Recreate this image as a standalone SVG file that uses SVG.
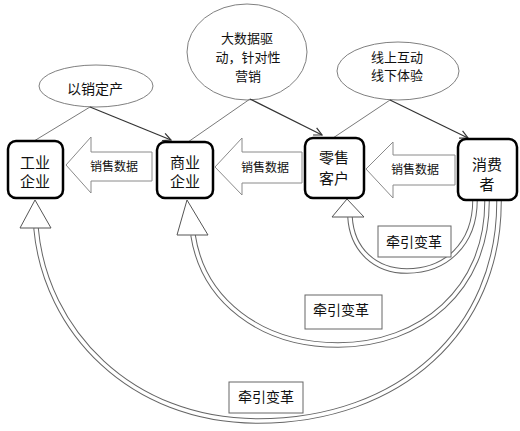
<svg xmlns="http://www.w3.org/2000/svg" width="520" height="431" viewBox="0 0 520 431">
<defs>
<style>
.t{font-family:"Noto Sans CJK SC","Noto Sans",sans-serif;fill:#111;text-anchor:middle}
.node rect{fill:#fff;stroke:#000;stroke-width:2.5}
.ell{fill:#fff;stroke:#808080;stroke-width:1}
.gl{stroke:#7a7a7a;stroke-width:1;fill:none}
.al{stroke:#333;stroke-width:1.2;fill:none}
.blk{fill:#fff;stroke:#8a8a8a;stroke-width:1}
.so{fill:none;stroke:#666;stroke-width:5.5}
.si{fill:none;stroke:#fff;stroke-width:3.5}
.tri{fill:#fff;stroke:#555;stroke-width:1}
.lab{fill:#fff;stroke:#666;stroke-width:1}
</style>
<marker id="ah" markerWidth="10" markerHeight="10" refX="9" refY="5" orient="auto" markerUnits="userSpaceOnUse">
<path d="M1,1 L9,5 L1,9" fill="none" stroke="#333" stroke-width="1.2"/>
</marker>
</defs>
<rect width="520" height="431" fill="#fff"/>

<g id="ellipses">
<g id="e1"><ellipse class="ell" cx="96" cy="86" rx="57" ry="21"/><text class="t" x="95" y="94" font-size="14">以销定产</text></g>
<g id="e2"><ellipse class="ell" cx="247" cy="52" rx="60" ry="48"/>
<text class="t" x="247" y="43" font-size="13">大数据驱</text>
<text class="t" x="248" y="62" font-size="13">动，针对性</text>
<text class="t" x="248" y="81" font-size="13">营销</text></g>
<g id="e3"><ellipse class="ell" cx="398" cy="71" rx="61" ry="29"/>
<text class="t" x="397" y="62" font-size="13">线上互动</text>
<text class="t" x="397" y="80" font-size="13">线下体验</text></g>
</g>

<g id="connectors">
<line class="gl" x1="90" y1="107" x2="34" y2="141"/>
<line class="al" x1="90" y1="107" x2="171" y2="140" marker-end="url(#ah)"/>
<line class="gl" x1="250" y1="99" x2="188" y2="142"/>
<line class="al" x1="250" y1="99" x2="322" y2="135" marker-end="url(#ah)"/>
<line class="gl" x1="390" y1="100" x2="333" y2="138"/>
<line class="al" x1="390" y1="100" x2="468" y2="138" marker-end="url(#ah)"/>

<polygon class="blk" points="66,165 91,137 91,152 152,152 152,181 91,181 91,193"/>
<polygon class="blk" points="215,167 242,138 242,152 302,152 302,183 242,183 242,195"/>
<polygon class="blk" points="366,169 393,142 393,155 455,155 455,185 393,185 393,198"/>

<path class="so" d="M499 200 C500 330 400 421 258 421 C130 421 45 330 36 228"/>
<path class="si" d="M499 200 C500 330 400 421 258 421 C130 421 45 330 36 228"/>
<path class="so" d="M487 200 C488 290 420 345 338 345 C260 345 203 300 193 235"/>
<path class="si" d="M487 200 C488 290 420 345 338 345 C260 345 203 300 193 235"/>
<path class="so" d="M475 200 C475 245 445 271 407 271 C375 271 352 250 350 217"/>
<path class="si" d="M475 200 C475 245 445 271 407 271 C375 271 352 250 350 217"/>
<polygon class="tri" points="35,200 20,228 51,228"/>
<polygon class="tri" points="187,200 177,235 208,235"/>
<polygon class="tri" points="347,199 332,217 364,217"/>
</g>

<g id="labels">
<text class="t" x="114" y="171" font-size="12">销售数据</text>
<text class="t" x="265" y="172" font-size="12">销售数据</text>
<text class="t" x="415" y="174" font-size="12">销售数据</text>
<g id="lab1"><rect class="lab" x="378" y="226" width="73" height="31"/><text class="t" x="414" y="247" font-size="14">牵引变革</text></g>
<g id="lab2"><rect class="lab" x="305" y="295" width="77" height="34"/><text class="t" x="341" y="315" font-size="14">牵引变革</text></g>
<g id="lab3"><rect class="lab" x="229" y="382" width="74" height="31"/><text class="t" x="266" y="402" font-size="14">牵引变革</text></g>
</g>

<g id="n1" class="node"><rect x="8" y="141" width="55" height="57" rx="8"/><text class="t" x="35" y="168" font-size="15">工业</text><text class="t" x="35" y="187" font-size="15">企业</text></g>
<g id="n2" class="node"><rect x="157" y="142" width="56" height="56" rx="8"/><text class="t" x="185" y="168" font-size="15">商业</text><text class="t" x="185" y="187" font-size="15">企业</text></g>
<g id="n3" class="node"><rect x="305" y="138" width="59" height="60" rx="8"/><text class="t" x="334" y="163" font-size="15">零售</text><text class="t" x="334" y="184" font-size="15">客户</text></g>
<g id="n4" class="node"><rect x="458" y="139" width="59" height="61" rx="8"/><text class="t" x="487" y="170" font-size="15">消费</text><text class="t" x="487" y="190" font-size="15">者</text></g>
</svg>
